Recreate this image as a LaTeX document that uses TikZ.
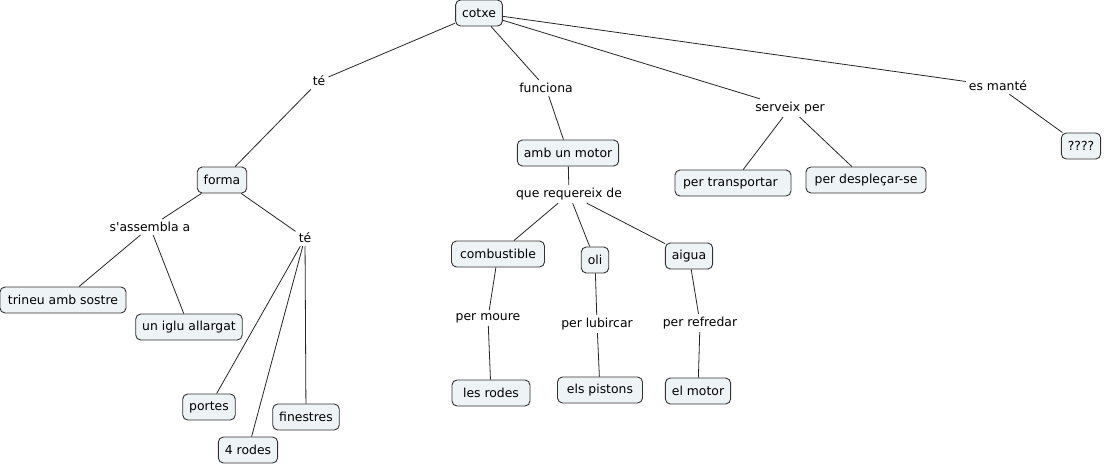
\documentclass[tikz,border=0pt]{standalone}
\usepackage{fontspec}
\setmainfont{DejaVu Sans}
\definecolor{boxfill}{HTML}{EEF3F5}
\definecolor{boxline}{HTML}{333333}
\begin{document}
\begin{tikzpicture}[x=1pt,y=-1pt,
  concept/.style={draw=boxline,line width=0.9pt,fill=boxfill,rounded corners=5pt,
    inner xsep=6.5pt,inner ysep=0pt,minimum height=26pt,font=\fontsize{12.4}{14}\selectfont},
  link/.style={inner sep=3pt,font=\fontsize{12.4}{14}\selectfont},
  conn/.style={draw=black!85,line width=0.8pt}]
\useasboundingbox[fill=white] (0,0) rectangle (1106,466);
% concepts
\node[concept] (cotxe) at (479,13) {cotxe};
\node[concept] (q) at (1081,146) {????};
\node[concept] (forma) at (222,180) {forma};
\node[concept] (motor) at (568,153) {amb un motor};
\node[concept,minimum width=116pt,text width=100pt,align=left] (transp) at (733,183) {per transportar};
\node[concept,minimum width=120pt] (despl) at (866,180) {per despleçar-se};
\node[concept,minimum width=126pt] (trineu) at (63,300) {trineu amb sostre};
\node[concept] (iglu) at (189,327) {un iglu allargat};
\node[concept,minimum width=93pt] (comb) at (498,254) {combustible};
\node[concept] (oli) at (595,260) {oli};
\node[concept] (aigua) at (689,256) {aigua};
\node[concept,minimum width=78pt] (rodes) at (491,393) {les rodes};
\node[concept,minimum width=85pt] (pist) at (600,390) {els pistons};
\node[concept] (elmotor) at (698,391) {el motor};
\node[concept] (portes) at (209,407) {portes};
\node[concept] (fin) at (306,417) {finestres};
\node[concept] (quatre) at (248,450) {4 rodes};
% linking phrases
\node[link] (te1) at (319,81) {té};
\node[link] (func) at (546,88) {funciona};
\node[link] (serv) at (790,108) {serveix per};
\node[link] (mante) at (998,86) {es manté};
\node[link] (req) at (569,194) {que requereix de};
\node[link] (assem) at (150,227) {s\textquotesingle assembla a};
\node[link] (te2) at (305,238) {té};
\node[link] (moure) at (488,318) {per moure};
\node[link] (lubr) at (597,324) {per lubircar};
\node[link] (refr) at (700,323) {per refredar};
% connectors
\draw[conn] (cotxe) -- (te1); \draw[conn] (te1) -- (forma);
\draw[conn] (cotxe) -- (func); \draw[conn] (func) -- (motor);
\draw[conn] (cotxe) -- (serv); \draw[conn] (serv) -- (transp); \draw[conn] (serv) -- (despl);
\draw[conn] (cotxe) -- (mante); \draw[conn] (mante) -- (q);
\draw[conn] (forma) -- (assem); \draw[conn] (assem) -- (trineu); \draw[conn] (assem) -- (iglu);
\draw[conn] (forma) -- (te2); \draw[conn] (te2) -- (portes); \draw[conn] (te2) -- (quatre); \draw[conn] (te2) -- (fin);
\draw[conn] (motor) -- (req); \draw[conn] (req) -- (comb); \draw[conn] (req) -- (oli); \draw[conn] (req) -- (aigua);
\draw[conn] (comb) -- (moure); \draw[conn] (moure) -- (rodes);
\draw[conn] (oli) -- (lubr); \draw[conn] (lubr) -- (pist);
\draw[conn] (aigua) -- (refr); \draw[conn] (refr) -- (elmotor);
\end{tikzpicture}
\end{document}
